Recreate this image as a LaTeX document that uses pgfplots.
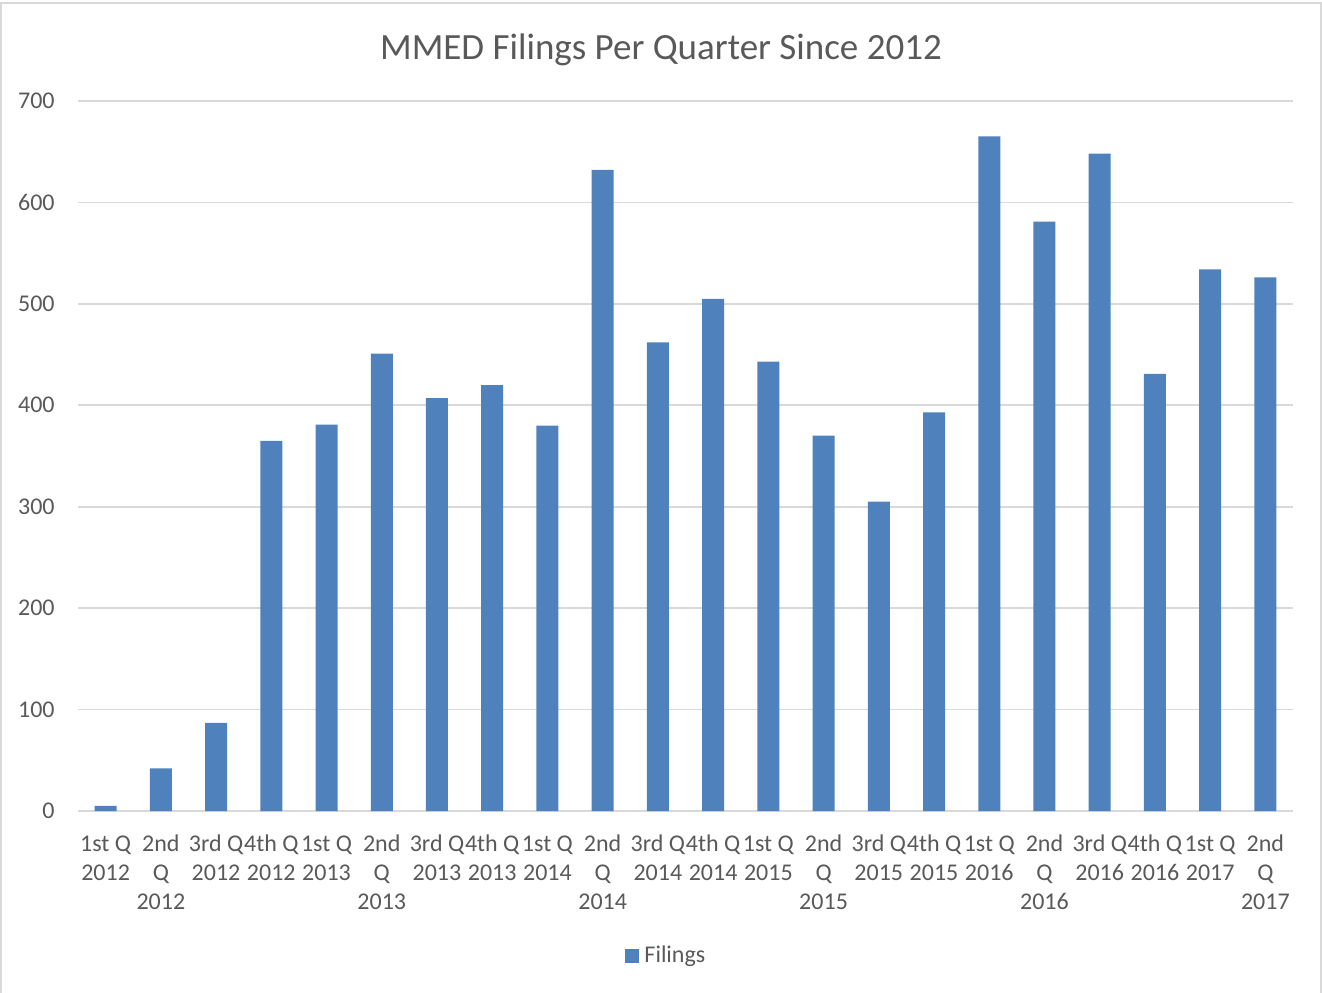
\documentclass[border=0pt]{standalone}
\usepackage{pgfplots}
\pgfplotsset{compat=1.18}
\usepackage{fontspec}
\setmainfont{Carlito}
\definecolor{barblue}{HTML}{4F81BD}
\definecolor{txtgray}{HTML}{595959}
\definecolor{gridgray}{HTML}{D9D9D9}
\begin{document}
\begin{tikzpicture}
\path[use as bounding box] (0,0) rectangle (661pt,496pt);
\draw[gridgray, line width=0.8pt] (0.6pt,-3pt) rectangle (660.4pt,494.5pt);
\node[txtgray, font=\fontsize{18.5}{22}\selectfont] at (330.5pt,471pt) {MMED Filings Per Quarter Since 2012};
\begin{axis}[
  at={(39pt,90.5pt)}, anchor=south west,
  scale only axis, width=607.5pt, height=355pt,
  xmin=-0.5, xmax=21.5, ymin=0, ymax=700,
  ytick={0,100,...,700},
  xtick={0,...,21},
  xticklabels={{\strut 1st Q\\2012},{\strut 2nd\\Q\\2012},{\strut 3rd Q\\2012},{\strut 4th Q\\2012},{\strut 1st Q\\2013},{\strut 2nd\\Q\\2013},{\strut 3rd Q\\2013},{\strut 4th Q\\2013},{\strut 1st Q\\2014},{\strut 2nd\\Q\\2014},{\strut 3rd Q\\2014},{\strut 4th Q\\2014},{\strut 1st Q\\2015},{\strut 2nd\\Q\\2015},{\strut 3rd Q\\2015},{\strut 4th Q\\2015},{\strut 1st Q\\2016},{\strut 2nd\\Q\\2016},{\strut 3rd Q\\2016},{\strut 4th Q\\2016},{\strut 1st Q\\2017},{\strut 2nd\\Q\\2017}},
  major tick length=0pt,
  axis line style={draw=none},
  ymajorgrids, grid style={gridgray, line width=0.8pt},
  tick label style={txtgray, font=\fontsize{12}{14.5}\selectfont},
  /pgf/number format/assume math mode=true,
  yticklabel style={anchor=east, inner sep=0pt, xshift=-11.5pt},
  xticklabel style={anchor=north, inner sep=0pt, yshift=-10pt, align=center},
  legend style={at={(0.4851,-0.2042)}, anchor=center, draw=none, fill=none,
    font=\fontsize{12}{14.5}\selectfont, text=txtgray, inner sep=0pt,
    legend cell align=left},
  legend image code/.code={\fill[barblue] (0pt,-3.5pt) rectangle (7pt,3.5pt);},
  clip=false,
]
\draw[gridgray, line width=0.8pt] (rel axis cs:0,0) -- (rel axis cs:1,0);
\addplot[ybar, bar width=11pt, fill=barblue, draw=none] coordinates {
(0,5) (1,42) (2,87) (3,365) (4,381) (5,451) (6,407) (7,420) (8,380) (9,632) (10,462)
(11,505) (12,443) (13,370) (14,305) (15,393) (16,665) (17,581) (18,648) (19,431) (20,534) (21,526)
};
\addlegendentry{\hspace{0.5pt}Filings}
\end{axis}
\end{tikzpicture}
\end{document}
